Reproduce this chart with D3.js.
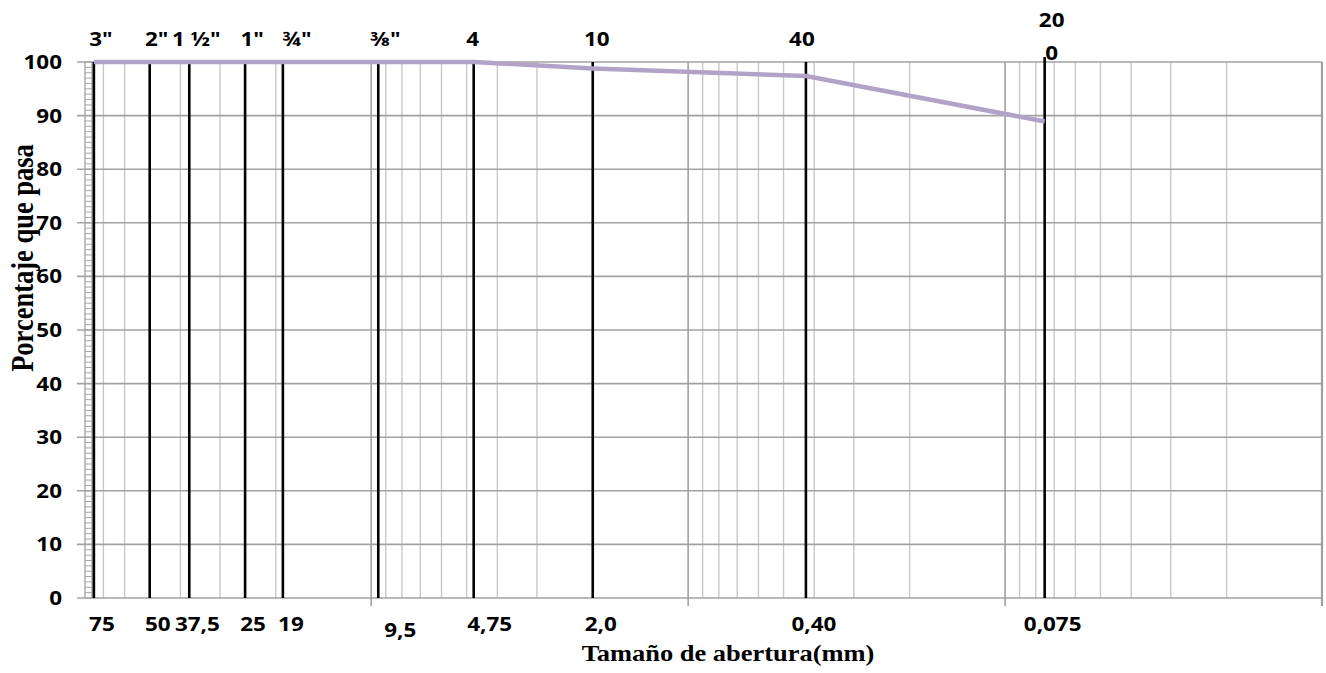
<!DOCTYPE html>
<html>
<head>
<meta charset="UTF-8">
<script src="https://d3js.org/d3.v7.min.js"></script>
<style>
  body { margin: 0; background: #fff; }
  .num { font-family: "Open Sans", sans-serif; font-weight: bold; font-size: 19.5px; fill: #000; }
  .title { font-family: "Liberation Serif", "Times New Roman", serif; font-weight: bold; fill: #000; }
</style>
</head>
<body>
<svg id="chart" width="1326" height="673"></svg>
<script>
// sieve names (top), openings in mm, labels (bottom) and percent passing
const sieveNames = ['3"', '2"', '1 \u00BD"', '1"', '\u00BE"', '\u215C"', '4', '10', '40', '200'];
const sieveMm = [75, 50, 37.5, 25, 19, 9.5, 4.75, 2.0, 0.425, 0.075];
const sizeLabels = ['75', '50', '37,5', '25', '19', '9,5', '4,75', '2,0', '0,40', '0,075'];
const passing = [100, 100, 100, 100, 100, 100, 100, 98.8, 97.4, 88.9];
const yTicks = [0, 10, 20, 30, 40, 50, 60, 70, 80, 90, 100];

const svg = d3.select("#chart");
const plotTop = 62, plotBottom = 598, plotLeft = 92, plotRight = 1322;
const sx = 1.15; // the picture is a bit wider than tall

const x = d3.scaleLog().domain([80, 0.01]).range([85, plotRight]);
const y = d3.scaleLinear().domain([0, 100]).range([plotBottom, plotTop]);

// vertical log gridlines
const vTicks = x.ticks();
const isDecade = v => Math.abs(Math.log10(v) - Math.round(Math.log10(v))) < 1e-9;
svg.append("g").selectAll("line").data(vTicks.filter(v => !isDecade(v)))
  .join("line")
  .attr("x1", d => x(d)).attr("x2", d => x(d))
  .attr("y1", plotTop).attr("y2", plotBottom)
  .attr("stroke", d => d === 80 ? "#a6a6a6" : "#c8c8c8").attr("stroke-width", 1.4);

// horizontal gridlines with outside tick
svg.append("g").selectAll("line").data(yTicks)
  .join("line")
  .attr("x1", 77).attr("x2", plotRight)
  .attr("y1", d => y(d)).attr("y2", d => y(d))
  .attr("stroke", "#a2a2a2").attr("stroke-width", 1.6);

// decade lines, ticks below axis
svg.append("g").selectAll("line").data(vTicks.filter(isDecade))
  .join("line")
  .attr("x1", d => x(d)).attr("x2", d => x(d))
  .attr("y1", plotTop).attr("y2", plotBottom + 8)
  .attr("stroke", "#a0a0a0")
  .attr("stroke-width", d => d === 0.01 ? 2.2 : 1.6);

// y axis with minor ticks
svg.append("line").attr("x1", plotLeft).attr("x2", plotLeft).attr("y1", plotTop).attr("y2", plotBottom)
  .attr("stroke", "#a6a6a6").attr("stroke-width", 1.4);
svg.append("g").selectAll("line").data(d3.range(0, 101, 1))
  .join("line")
  .attr("x1", 85).attr("x2", plotLeft)
  .attr("y1", d => y(d)).attr("y2", d => y(d))
  .attr("stroke", "#a6a6a6").attr("stroke-width", 1);

// sieve lines
svg.append("g").selectAll("line").data(sieveMm)
  .join("line")
  .attr("x1", d => x(d)).attr("x2", d => x(d))
  .attr("y1", (d, i) => i === sieveMm.length - 1 ? plotTop - 5 : plotTop).attr("y2", plotBottom)
  .attr("stroke", "#000").attr("stroke-width", 2.6);

// gradation curve
const pts = sieveMm.map((d, i) => [d, passing[i]]);
svg.append("path").datum(pts)
  .attr("fill", "none").attr("stroke", "#b3a2c7").attr("stroke-width", 4.5)
  .attr("stroke-linejoin", "round")
  .attr("d", d3.line().x(d => x(d[0])).y(d => y(d[1])));

function label(g, tx, ty, str, anchor, cls) {
  return g.append("text").attr("class", cls)
    .attr("transform", "translate(" + tx + "," + ty + ") scale(" + sx + ",1)")
    .attr("text-anchor", anchor).text(str);
}

// y tick labels
const yl = svg.append("g");
yTicks.forEach(t => label(yl, 62, y(t) + 7, t, "end", "num"));

// sieve names on top
const tl = svg.append("g");
const topNudge = { '\u00BE"': 7, '4': -8, '10': -3, '40': -11 };
sieveNames.forEach((s, i) => {
  const cx = x(sieveMm[i]) + 7 + (topNudge[s] || 0);
  if (s === '200') {
    label(tl, cx, 27, "20", "middle", "num");
    label(tl, cx, 60, "0", "middle", "num");
  } else {
    label(tl, cx, 46, s, "middle", "num");
  }
});

// opening sizes at bottom
const bl = svg.append("g");
const botNudge = { '9,5': 14, '4,75': 8 };
sizeLabels.forEach((s, i) => {
  label(bl, x(sieveMm[i]) + 8 + (botNudge[s] || 0), s === '9,5' ? 637 : 631, s, "middle", "num");
});

// axis titles
svg.append("text").attr("class", "title").style("font-size", "23px")
  .attr("transform", "translate(728,661) scale(1.15,1)")
  .attr("text-anchor", "middle").text("Tamaño de abertura(mm)");
svg.append("text").attr("class", "title").style("font-size", "26.5px")
  .attr("transform", "translate(33,258) scale(1.2,1) rotate(-90)")
  .attr("text-anchor", "middle").text("Porcentaje que pasa");
</script>
</body>
</html>
